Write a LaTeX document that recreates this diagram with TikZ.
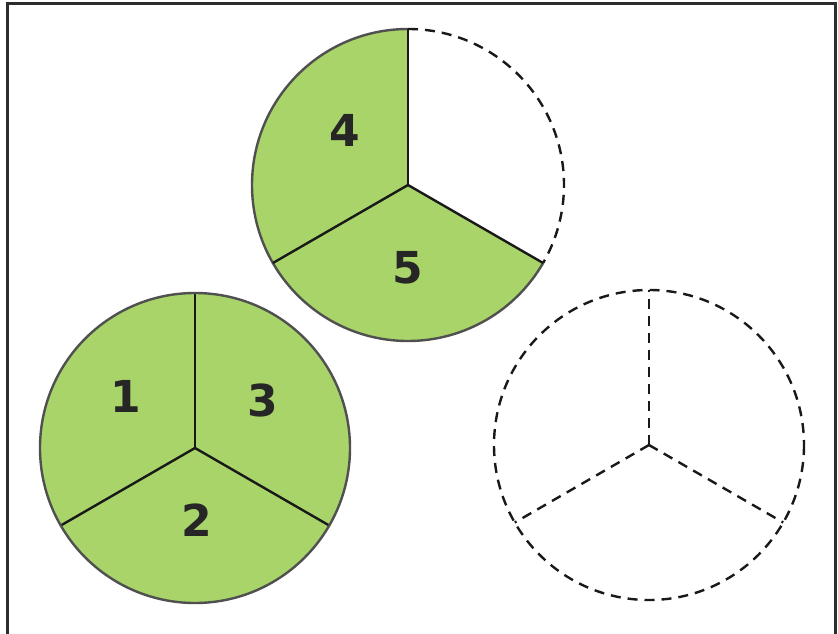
\documentclass[tikz,border=0pt]{standalone}
\usepackage{fontspec}
\newfontfamily\digitfont{DejaVu Sans}
\definecolor{piegreen}{RGB}{168,212,106}
\definecolor{rimgray}{RGB}{80,80,80}
\definecolor{framegray}{RGB}{45,45,45}
\begin{document}
\begin{tikzpicture}[x=1pt,y=-1pt,
  divider/.style={draw=black!90,line width=2.4pt},
  rim/.style={draw=rimgray,line width=2.4pt},
  dashline/.style={draw=black!90,line width=2.4pt,dash pattern=on 10pt off 7pt},
  digit/.style={font=\digitfont\bfseries\fontsize{44}{48}\selectfont,text=black!85,inner sep=0pt}]
\useasboundingbox (0,0) rectangle (838,634);
\begin{scope}
\clip (0,0) rectangle (838,634);
\draw[framegray,line width=3pt] (7,680) -- (7,4) -- (835,4) -- (835,680);
\end{scope}
% bottom-left circle
\coordinate (A) at (195,448);
\fill[piegreen] (A) circle[radius=155];
\draw[divider] (A) -- ++(0,-155);
\draw[divider] (A) -- ++(-210:155);
\draw[divider] (A) -- ++(-330:155);
\draw[rim] (A) circle[radius=155];
\node[digit] (n1) at (126,396) {1};
\node[digit] (n2) at (197,520) {2};
\node[digit] (n3) at (263,400) {3};
% top circle
\coordinate (B) at (408,185);
\fill[piegreen] (B) -- ++(0,-156) arc[start angle=-90,end angle=-330,radius=156] -- cycle;
\draw[rim] (B) ++(0,-156) arc[start angle=-90,end angle=-330,radius=156];
\draw[dashline] (B) ++(0,-156) arc[start angle=-90,end angle=30,radius=156];
\draw[divider] (B) -- ++(0,-156);
\draw[divider] (B) -- ++(-210:156);
\draw[divider] (B) -- ++(-330:156);
\node[digit] (n4) at (345,130) {4};
\node[digit] (n5) at (408,268) {5};
% bottom-right dashed circle
\coordinate (C) at (649,445);
\draw[dashline] (C) circle[radius=155];
\draw[dashline] (C) -- ++(0,-155);
\draw[dashline] (C) -- ++(-210:155);
\draw[dashline] (C) -- ++(-330:155);
\end{tikzpicture}
\end{document}
